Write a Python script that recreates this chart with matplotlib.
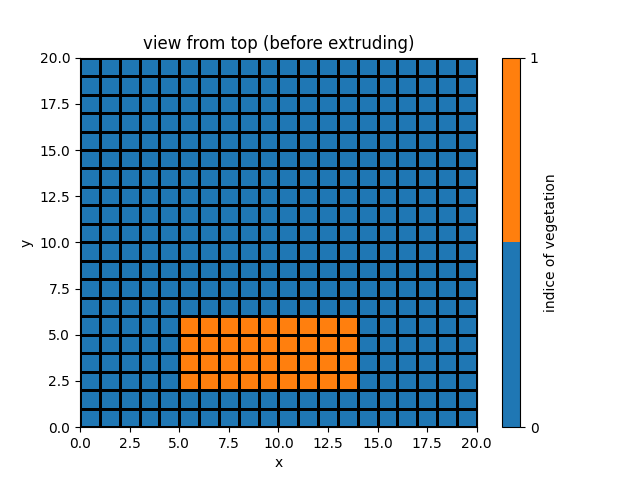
import matplotlib
matplotlib.use('Agg')
import matplotlib.pyplot as plt
import numpy as np
from matplotlib.colors import ListedColormap

nx, ny = 20, 20
veg_x = [5, 14]   # vegetated cells, x range
veg_y = [2, 6]    # vegetated cells, y range

x = np.arange(nx + 1)
y = np.arange(ny + 1)
veg = np.zeros((ny, nx))
veg[veg_y[0]:veg_y[1], veg_x[0]:veg_x[1]] = 1

cmap = ListedColormap(['tab:blue', 'tab:orange'])

fig, ax = plt.subplots(figsize=(6.4, 4.8), dpi=100)
pc = ax.pcolormesh(x, y, veg, cmap=cmap, vmin=0, vmax=1,
                   edgecolors='k', linewidth=2)
cb = fig.colorbar(pc, ax=ax, ticks=[0, 1])
cb.set_label('indice of vegetation')
ax.set_xlabel('x')
ax.set_ylabel('y')
ax.set_title('view from top (before extruding)')
fig.savefig('out.png')
